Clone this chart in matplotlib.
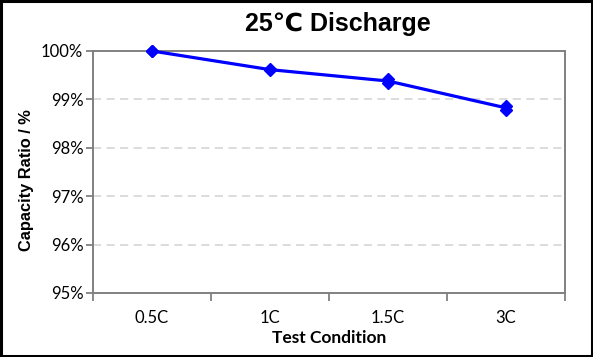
import matplotlib
matplotlib.use("Agg")
import matplotlib.pyplot as plt
from matplotlib.patches import Rectangle
from matplotlib.ticker import FuncFormatter, FixedLocator

categories = ["0.5C", "1C", "1.5C", "3C"]
series_a = [100.0, 99.63, 99.42, 98.86]
series_b = [100.0, 99.60, 99.34, 98.79]
y_ticks = [95, 96, 97, 98, 99, 100]

W, H = 593, 357
fig = plt.figure(figsize=(W / 100, H / 100), dpi=100)
ax = fig.add_axes([93 / W, 1 - 293 / H, (565 - 93) / W, (293 - 51) / H])

x = list(range(len(categories)))
mean_line = [(a + b) / 2 for a, b in zip(series_a, series_b)]
ax.plot(x, mean_line, color="#0000FF", lw=2.3, clip_on=False, zorder=5)
for s in (series_a, series_b):
    ax.plot(x, s, ls="none", marker="D", markersize=6,
            markeredgecolor="#0000FF", markerfacecolor="#0000FF", clip_on=False, zorder=6)

ax.set_xlim(-0.5, len(categories) - 0.5)
ax.set_ylim(95, 100)
ax.set_yticks(y_ticks)
ax.yaxis.set_major_formatter(FuncFormatter(lambda v, p: f"{int(round(v))}%"))
for v in y_ticks[1:-1]:
    ax.axhline(v, color="#d9d9d9", lw=1.3, ls=(0, (4.5, 3)), zorder=1)

ax.set_xticks(x)
ax.set_xticklabels(categories)
ax.xaxis.set_minor_locator(FixedLocator([i - 0.5 for i in range(len(categories) + 1)]))
ax.tick_params(axis="x", which="major", length=0, pad=12)
ax.tick_params(axis="x", which="minor", length=5.5, width=1.3, color="#808080", direction="out")
ax.tick_params(axis="y", which="major", length=5, width=1.3, color="#808080", direction="out", pad=2)

for lab in ax.get_xticklabels() + ax.get_yticklabels():
    lab.set_fontfamily("Lato")
    lab.set_fontsize(12)
    lab.set_color("#000000")

for sp in ax.spines.values():
    sp.set_color("#808080")
    sp.set_linewidth(1.4)

fig.text(26 / W, 1 - 180 / H, "Capacity Ratio / %", rotation=90, ha="center", va="center",
         family="Liberation Sans", fontweight="bold", fontsize=11.8)
fig.text(329 / W, 1 - 338 / H, "Test Condition", ha="center", va="center",
         family="Lato", fontweight="bold", fontsize=12.5)
fig.text(338 / W, 1 - 24 / H, "25℃ Discharge", ha="center", va="center",
         family=["Liberation Sans", "DejaVu Sans"], fontweight="bold", fontsize=18)

fig.patches.append(Rectangle((0.002, 0.003), 0.996, 0.994, transform=fig.transFigure,
                             fill=False, edgecolor="black", lw=2.2))

fig.savefig("out.png", dpi=100)
